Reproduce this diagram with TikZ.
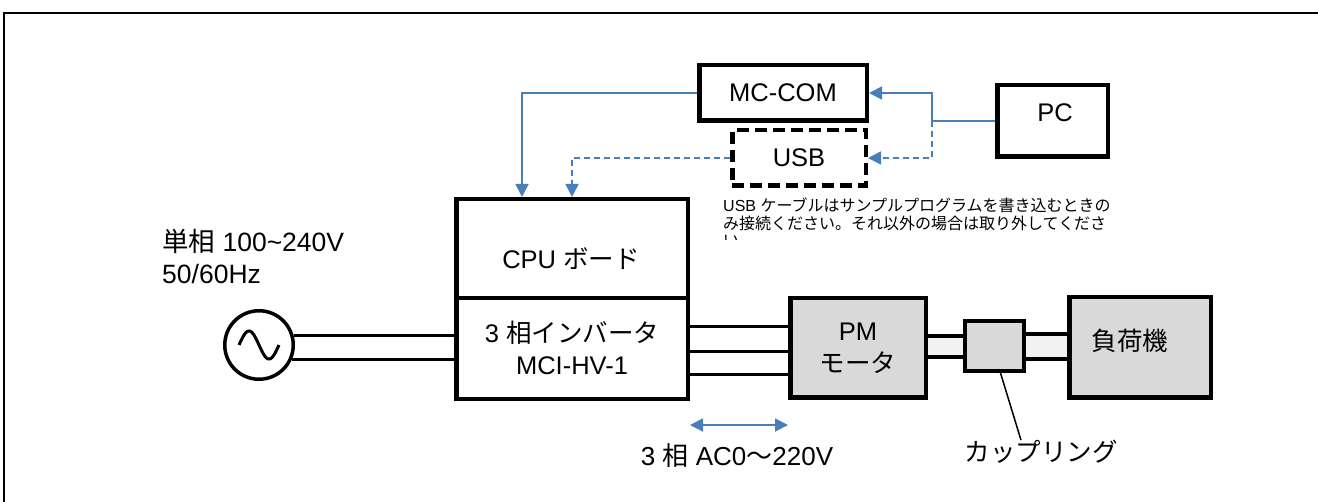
\documentclass[tikz,border=0pt]{standalone}
\usepackage{fontspec}
\setmainfont{Liberation Sans}
\newfontfamily\jp{Noto Sans CJK JP}
\usepackage{tikz}
\usetikzlibrary{arrows.meta,backgrounds,positioning}
\definecolor{sigblue}{RGB}{74,126,187}
\definecolor{boxgray}{RGB}{217,217,217}
\definecolor{shaftgray}{RGB}{242,242,242}
\tikzset{
  block/.style={rectangle, draw, line width=4.5pt, inner sep=0pt, align=center, font=\fontsize{25.5}{32}\selectfont},
  wire/.style={line width=3pt},
  shaft/.style={draw, line width=4pt, fill=shaftgray},
  sig/.style={sigblue, line width=1.8pt, -{Triangle[length=13pt,width=13pt]}},
  sigdash/.style={sig, dash pattern=on 6pt off 4pt},
  lbl/.style={inner sep=0pt, font=\fontsize{25.5}{32}\selectfont}
}
\begin{document}
\begin{tikzpicture}[x=1pt, y=-1pt]
    \useasboundingbox (0,0) rectangle (1318,502);
    % Frame
    \draw[line width=2pt] (4,502) -- (4,13) -- (1320,13);

    % Nodes
    \node (mccom) [block, minimum width=167.5pt, minimum height=55.5pt] at (783,93) {MC-COM};
    \node (usb) [block, dash pattern=on 12pt off 6pt, minimum width=133.5pt, minimum height=55.5pt] at (799,158) {USB};
    \node (pc) [block, minimum width=110.5pt, minimum height=71.5pt] at (1052.5,121) {};
    \node (pctext) [lbl] at (1055,113) {PC};

    \node (cpu) [block, minimum width=231.5pt, minimum height=98.75pt] at (572,248.6) {};
    \node (cputext) [lbl] at (571,259) {CPU {\jp ボード}};
    \node (inv) [block, minimum width=231.5pt, minimum height=100.75pt] at (572,348.4) {3 {\jp 相インバータ}\\MCI-HV-1};

    \node (ac) [circle, draw, line width=3.5pt, minimum size=68.5pt, inner sep=0pt] at (259,345) {};
    \draw[line width=3pt, shift={(ac.center)}] plot[domain=-1:1, samples=40] ({20*\x},{14*sin(180*\x)});

    \node (pm) [block, fill=boxgray, minimum width=135.5pt, minimum height=99.5pt] at (858,348) {PM\\{\jp モータ}};
    \node (coup) [block, fill=boxgray, line width=4pt, minimum width=59pt, minimum height=50pt] at (994.5,346) {};
    \node (load) [block, fill=boxgray, minimum width=141.5pt, minimum height=100.5pt] at (1140,347.5) {};
    \node (loadtext) [lbl] at (1130,341) {\jp 負荷機};

    % Shafts
    \begin{scope}[on background layer]
        \draw[shaft] ([yshift=11.5pt]pm.center) rectangle ([yshift=-11.5pt]coup.center);
        \draw[shaft] ([yshift=11.5pt]coup.center) rectangle ([yshift=-11.5pt]load.center);
    \end{scope}

    % Power wires
    \draw[wire] (ac.16) -- (ac.16 -| inv.west);
    \draw[wire] (ac.-23) -- (ac.-23 -| inv.west);
    \foreach \y in {327,352,375}
        \draw[wire] (inv.east |- 0,\y) -- (pm.west |- 0,\y);

    % Signal connections
    \coordinate (split) at ([xshift=-63pt]pc.west);
    \draw[sig] (pc.west) -- (split) |- (mccom.east);
    \draw[sigdash] (split) |- (usb.east);
    \draw[sig] (mccom.west) -| ([xshift=-50pt]cpu.north);
    \draw[sigdash] (usb.west) -| (cpu.north);
    \draw[sig, {Triangle[length=13pt,width=13pt]}-{Triangle[length=13pt,width=13pt]}] ([yshift=-24pt]inv.south east) -- ([yshift=-24pt]inv.south east -| pm.west);

    % Annotations
    \node (aclabel) [lbl, anchor=north west, align=left, font=\fontsize{26.5}{32}\selectfont] at (162,229) {{\jp 単相} 100\textasciitilde240V\\50/60Hz};
    \node (phaselabel) [lbl, font=\fontsize{26}{32}\selectfont] at (737,456) {3 {\jp 相} AC0{\jp 〜}220V};
    \node (cplabel) [lbl] at (1041,452) {\jp カップリング};
    \draw[line width=1.5pt] ([xshift=6pt]coup.south) -- ([xshift=-20pt]cplabel.north);

    \begin{scope}
        \clip (700,190) rectangle (1140,239.5);
        \node (note) [inner sep=0pt, anchor=north west, align=left, font=\fontsize{16}{17.5}\selectfont] at (723,198) {USB {\jp ケーブルはサンプルプログラムを書き込むときの}\\{\jp み接続ください。それ以外の場合は取り外してくださ}\\{\jp い。}};
    \end{scope}
\end{tikzpicture}
\end{document}
